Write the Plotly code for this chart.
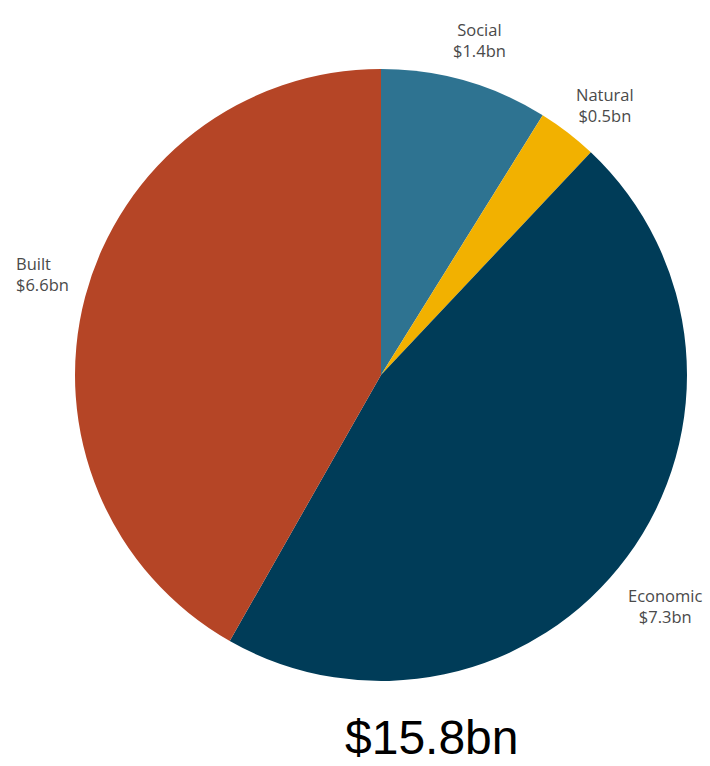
import plotly.graph_objects as go

categories = ["Social", "Natural", "Economic", "Built"]
values = [1.4, 0.5, 7.3, 6.6]
colors = ["#2e7391", "#f2b100", "#003c58", "#b54526"]
value_labels = ["$1.4bn", "$0.5bn", "$7.3bn", "$6.6bn"]
total_label = "$15.8bn"

W, H = 710, 766
cx, cy, r = 381, 375, 306

fig = go.Figure(go.Pie(
    labels=categories,
    values=values,
    marker=dict(colors=colors, line=dict(width=0)),
    sort=False,
    direction="clockwise",
    rotation=0,
    textinfo="none",
    hoverinfo="label+value",
    showlegend=False,
    domain=dict(x=[(cx - r) / W, (cx + r) / W], y=[1 - (cy + r) / H, 1 - (cy - r) / H]),
))

# label positions (pixel) : x, y, anchor
label_pos = {
    "Social": (479, 40, "center"),
    "Natural": (605, 105, "center"),
    "Economic": (665, 606, "center"),
    "Built": (14, 274, "left"),
}
for cat, vl in zip(categories, value_labels):
    x, y, anc = label_pos[cat]
    fig.add_annotation(
        x=x / W, y=1 - y / H, xref="paper", yref="paper",
        text=f"{cat}<br>{vl}", showarrow=False,
        xanchor=anc, yanchor="middle", align=anc,
        font=dict(family="Open Sans, sans-serif", size=16.5, color="#4a4a4a"),
    )

fig.add_annotation(
    x=432 / W, y=1 - 737 / H, xref="paper", yref="paper",
    text=total_label, showarrow=False, xanchor="center", yanchor="middle",
    font=dict(family="Liberation Sans, Arial, sans-serif", size=48, color="#000000"),
)

fig.update_layout(
    width=W, height=H,
    margin=dict(l=0, r=0, t=0, b=0),
    paper_bgcolor="white", plot_bgcolor="white",
)

fig.write_html("out.html")
